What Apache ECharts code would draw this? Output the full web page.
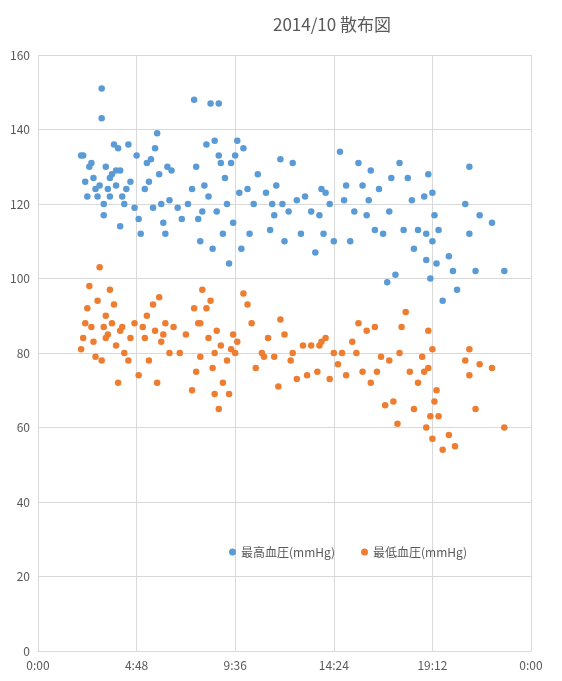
<!DOCTYPE html>
<html><head><meta charset="utf-8">
<script src="https://cdn.jsdelivr.net/npm/echarts@6/dist/echarts.min.js"></script>
<style>html,body{margin:0;padding:0;background:#fff}#c{width:562px;height:681px}</style>
</head><body><div id="c"></div>
<script>
const title = "2014/10 散布図";
const seriesNames = ["最高血圧(mmHg)", "最低血圧(mmHg)"];
// [hour of day, value]
const systolic = [[2.1,133],[2.2,133],[2.3,126],[2.4,122],[2.5,130],[2.6,131],[2.7,127],[2.8,124],[2.9,122],[3.0,125],[3.1,143],[3.1,151],[3.2,120],[3.2,117],[3.3,130],[3.4,124],[3.5,122],[3.6,128],[3.7,136],[3.8,129],[3.8,125],[3.9,135],[4.0,129],[4.0,114],[4.1,122],[4.2,120],[4.4,136],[4.5,126],[4.7,119],[4.8,133],[4.9,116],[5.0,112],[5.2,124],[5.3,131],[5.5,132],[5.6,119],[5.7,135],[5.8,139],[5.9,128],[6.0,120],[6.1,115],[6.2,112],[6.3,130],[6.5,129],[6.8,119],[7.0,116],[7.3,120],[7.5,124],[7.6,148],[7.7,130],[7.8,116],[7.9,110],[8.0,118],[8.2,136],[8.3,122],[8.4,147],[8.5,108],[8.6,137],[8.7,118],[8.8,147],[8.9,131],[9.0,112],[9.2,120],[9.3,104],[9.4,131],[9.5,115],[9.6,133],[9.7,137],[9.8,123],[9.9,108],[10.0,135],[10.3,112],[10.5,120],[10.7,128],[11.1,123],[11.3,113],[11.5,117],[11.6,125],[11.8,132],[11.9,120],[12.0,110],[12.2,118],[12.4,131],[12.8,112],[13.0,122],[13.3,118],[13.5,107],[13.7,117],[13.8,124],[14.0,123],[14.2,120],[14.4,110],[14.7,134],[14.9,121],[15.2,110],[15.4,118],[15.6,131],[15.8,125],[16.0,117],[16.2,129],[16.4,113],[16.6,124],[16.8,112],[17.0,99],[17.2,127],[17.4,101],[17.6,131],[17.8,113],[18.0,127],[18.3,108],[18.5,113],[18.8,122],[18.9,105],[19.0,128],[19.1,100],[19.2,110],[19.3,117],[19.5,113],[19.7,94],[20.0,106],[20.2,102],[20.4,97],[20.8,120],[21.0,112],[21.0,130],[21.3,102],[21.5,117],[22.1,115],[22.7,102],[3.5,127],[4.3,124],[5.4,126],[6.4,121],[8.1,125],[8.8,133],[9.1,127],[10.2,124],[11.4,120],[12.6,121],[13.9,112],[15.0,125],[16.1,121],[17.1,118],[18.2,121],[18.9,112],[19.2,123],[19.4,104]];
const diastolic = [[2.1,81],[2.2,84],[2.3,88],[2.4,92],[2.5,98],[2.6,87],[2.7,83],[2.8,79],[2.9,94],[3.0,103],[3.1,78],[3.2,87],[3.3,90],[3.4,85],[3.5,97],[3.6,88],[3.7,93],[3.8,82],[3.9,72],[4.0,86],[4.2,80],[4.4,78],[4.5,84],[4.7,88],[4.9,74],[5.1,87],[5.3,90],[5.4,78],[5.6,93],[5.7,86],[5.8,72],[5.9,95],[6.0,83],[6.2,88],[6.4,80],[6.6,87],[6.9,80],[7.2,85],[7.5,70],[7.6,92],[7.7,75],[7.8,88],[7.9,79],[8.0,97],[8.2,92],[8.3,84],[8.4,94],[8.5,76],[8.6,69],[8.7,86],[8.8,65],[8.9,82],[9.0,72],[9.2,78],[9.3,69],[9.4,81],[9.5,85],[9.7,83],[10.0,96],[10.2,93],[10.4,88],[10.6,76],[10.9,80],[11.2,84],[11.5,79],[11.7,71],[11.8,89],[12.0,85],[12.3,78],[12.6,73],[12.9,82],[13.1,74],[13.3,82],[13.6,75],[13.8,83],[14.0,84],[14.2,73],[14.4,80],[14.6,77],[14.8,80],[15.0,74],[15.3,83],[15.6,88],[15.8,75],[16.0,86],[16.2,72],[16.4,87],[16.7,79],[16.9,66],[17.1,78],[17.3,67],[17.5,61],[17.7,87],[17.9,91],[18.1,75],[18.3,65],[18.5,72],[18.8,75],[18.9,60],[19.0,86],[19.1,63],[19.2,57],[19.3,67],[19.5,63],[19.7,54],[20.0,58],[20.3,55],[20.8,78],[21.0,81],[21.0,74],[21.3,65],[21.5,77],[22.1,76],[22.7,60],[3.3,84],[4.1,87],[5.2,84],[6.1,85],[7.9,88],[8.6,80],[9.6,80],[11.0,79],[12.4,80],[13.7,82],[15.5,80],[16.5,75],[17.6,80],[18.7,79],[19.0,76],[19.2,81],[19.4,70]];
const toMin = d => d.map(p => [p[0]*60, p[1]]);
const chart = echarts.init(document.getElementById('c'));
const fmt = v => { const m = Math.round(v)%1440; return Math.floor(m/60)+':'+String(m%60).padStart(2,'0'); };
chart.setOption({
  animation:false,
  textStyle:{fontFamily:'"Noto Sans CJK JP", "Noto Sans", sans-serif'},
  title:{text:title,left:327,top:11,textAlign:'center',textStyle:{fontSize:17,fontWeight:'normal',color:'#595959',fontFamily:'"Noto Sans CJK JP", sans-serif'}},
  legend:{top:541,left:224,itemWidth:7,itemHeight:7,itemGap:26,icon:'circle',textStyle:{fontSize:12,color:'#595959'}},
  grid:{left:38,right:31,top:55,bottom:30,containLabel:false},
  xAxis:{type:'value',min:0,max:1440,interval:288,
    axisLine:{lineStyle:{color:'#d9d9d9'}},axisTick:{show:false},
    axisLabel:{formatter:fmt,color:'#595959',fontSize:12},
    splitLine:{lineStyle:{color:'#d9d9d9'}}},
  yAxis:{type:'value',min:0,max:160,interval:20,
    axisLine:{show:false},axisTick:{show:false},
    axisLabel:{color:'#595959',fontSize:12},
    splitLine:{lineStyle:{color:'#d9d9d9'}}},
  series:[
    {name:seriesNames[0],type:'scatter',symbolSize:6.5,data:toMin(systolic),itemStyle:{color:'#5B9BD5',opacity:1}},
    {name:seriesNames[1],type:'scatter',symbolSize:6.5,data:toMin(diastolic),itemStyle:{color:'#ED7D31',opacity:1}}
  ]
});
</script></body></html>
